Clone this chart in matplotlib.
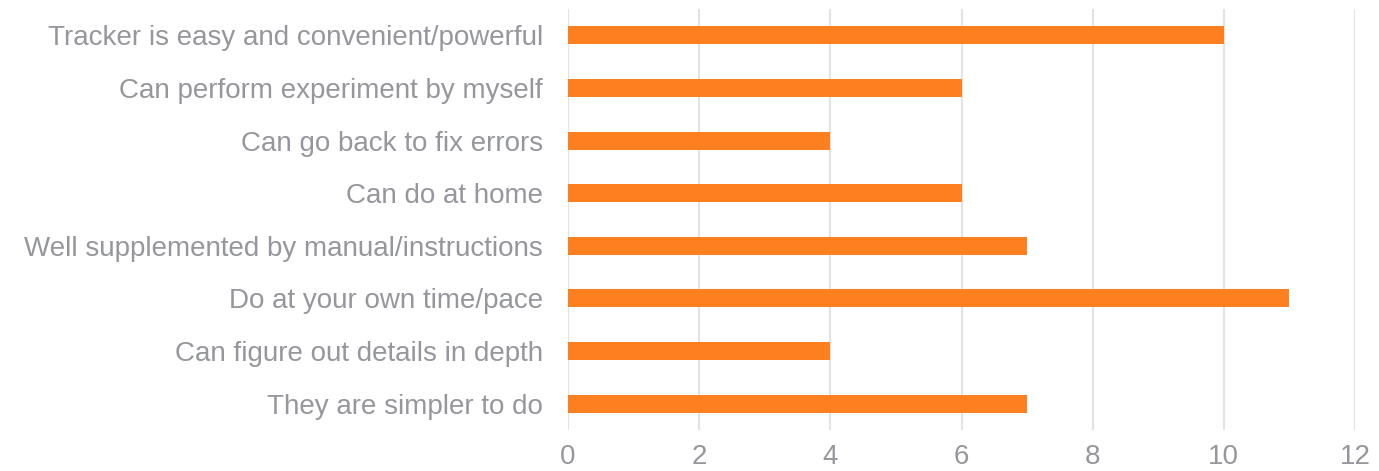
import matplotlib.pyplot as plt

# reasons listed top to bottom
reasons = [
    "Tracker is easy and convenient/powerful",
    "Can perform experiment by myself",
    "Can go back to fix errors",
    "Can do at home",
    "Well supplemented by manual/instructions",
    "Do at your own time/pace",
    "Can figure out details in depth",
    "They are simpler to do",
]
counts = [10, 6, 4, 6, 7, 11, 4, 7]
x_ticks = [0, 2, 4, 6, 8, 10, 12]

bar_color = "#fd7f20"
text_color = "#95979c"
grid_color = "#e3e3e3"

plt.rcParams["font.family"] = ["Liberation Sans", "DejaVu Sans"]

fig = plt.figure(figsize=(13.79, 4.71), dpi=100)
ax = fig.add_axes([568 / 1379, 1 - 430 / 471, (1355 - 568) / 1379, 421 / 471])

ypos = list(range(len(reasons)))[::-1]
ax.barh(ypos, counts, height=0.34, color=bar_color, zorder=3)

ax.set_xlim(0, 12)
ax.set_ylim(-0.5, len(reasons) - 0.5)
ax.set_xticks(x_ticks)
ax.set_yticks(ypos)
ax.set_yticklabels(reasons)
ax.xaxis.grid(True, color=grid_color, linewidth=1.5, zorder=0)
ax.set_axisbelow(True)

for s in ax.spines.values():
    s.set_visible(False)
ax.tick_params(axis="both", length=0, labelsize=20, colors=text_color)
ax.tick_params(axis="y", pad=18)
ax.tick_params(axis="x", pad=10)

fig.savefig("out.png", dpi=100)
